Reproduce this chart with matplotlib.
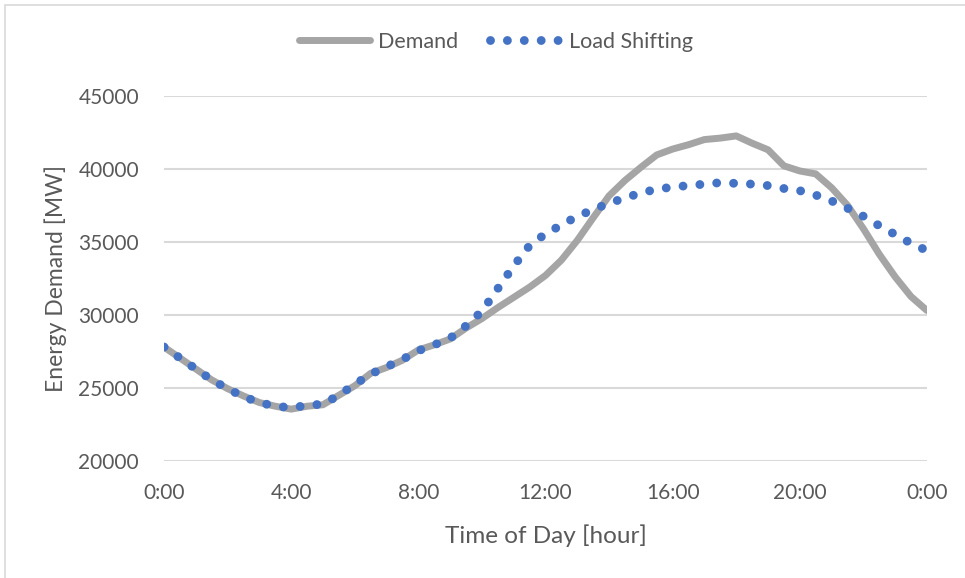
import numpy as np
import matplotlib.pyplot as plt
from matplotlib.patches import Rectangle

# half-hourly profile over one day
hours = np.arange(0, 24.5, 0.5)

demand = [27800, 27050, 26300, 25550, 24950, 24450, 24000, 23750, 23550, 23750,
          23850, 24500, 25150, 26000, 26400, 26900, 27600, 27950, 28350, 29100,
          29750, 30500, 31200, 31900, 32700, 33750, 35100, 36650, 38150, 39200,
          40100, 40950, 41350, 41650, 42000, 42100, 42250, 41750, 41300, 40200,
          39850, 39650, 38700, 37500, 35900, 34150, 32600, 31250, 30300]

load_shifting = [27800, 27050, 26300, 25550, 24950, 24400, 24000, 23750, 23650, 23800,
                 23900, 24500, 25250, 25950, 26450, 26950, 27550, 27950, 28400, 29250,
                 30250, 31800, 33350, 34750, 35550, 36150, 36750, 37200, 37650, 38000,
                 38350, 38600, 38750, 38850, 38950, 39050, 39000, 38950, 38850, 38650,
                 38500, 38200, 37800, 37300, 36750, 36100, 35500, 34900, 34400]

tick_hours = [0, 4, 8, 12, 16, 20, 24]
tick_labels = ['0:00', '4:00', '8:00', '12:00', '16:00', '20:00', '0:00']

plt.rcParams['font.family'] = ['Lato', 'DejaVu Sans']
txt = '#595959'

fig = plt.figure(figsize=(9.65, 5.78), dpi=100)
fig.patches.append(Rectangle((4.5 / 965, -0.05), 1.1, 1 - 5 / 578 + 0.05,
                             transform=fig.transFigure, fill=False,
                             edgecolor='#D9D9D9', lw=1.2))
ax = fig.add_axes([0.170, 0.2024, 0.7906, 0.632])

ax.plot(hours, demand, color='#A5A5A5', lw=5, solid_capstyle='round',
        solid_joinstyle='round', label='Demand', zorder=3)
ax.plot(hours, load_shifting, color='#4472C4', lw=6.4, linestyle=(0, (0.001, 1.9)),
        dash_capstyle='round', label='Load Shifting', zorder=4)

ax.set_xlim(0, 24)
ax.set_ylim(20000, 45000)
ax.set_xticks(tick_hours)
ax.set_xticklabels(tick_labels)
ax.set_yticks(np.arange(20000, 45001, 5000))
ax.grid(axis='y', color='#D9D9D9', lw=1.5)
ax.set_axisbelow(True)
for s in ax.spines.values():
    s.set_visible(False)
ax.tick_params(length=0, labelsize=15, colors=txt, pad=18)
ax.tick_params(axis='x', pad=16)

ax.set_xlabel('Time of Day [hour]', fontsize=17.5, color=txt, labelpad=15)
ax.set_ylabel('Energy Demand [MW]', fontsize=16.5, color=txt, labelpad=8)

# legend centred over the whole chart box
ax.legend(loc='center', bbox_to_anchor=(496 / 965, 1 - 42 / 578), bbox_transform=fig.transFigure,
          ncol=2, frameon=False, fontsize=15.5, labelcolor=txt, handlelength=3.3,
          handletextpad=0.35, columnspacing=1.5)

fig.savefig('out.png', dpi=100)
